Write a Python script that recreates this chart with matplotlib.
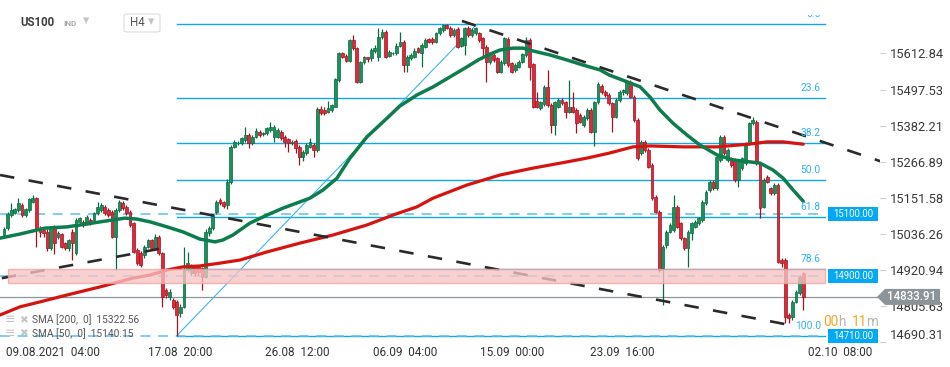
import numpy as np
import matplotlib
matplotlib.use("Agg")
import matplotlib.pyplot as plt
from matplotlib.patches import Rectangle, Polygon, FancyBboxPatch

plt.rcParams["font.family"] = ["Roboto", "DejaVu Sans"]

# ===== H4 candles (US100) =====
open_prices = [
    15032, 15053, 15096, 15103, 15112, 15128, 15096, 15112, 15139, 15149,
    15053, 15048, 15043, 14989, 15059, 15027, 15035, 15005, 14989, 15043,
    14973, 15075, 15075, 15069, 15080, 15080, 15101, 15112, 15123, 15112,
    15107, 15027, 15112, 15133, 15123, 15107, 15069, 14984, 14973, 14968,
    14995, 15016, 14989, 15027, 14973, 14856, 14835, 14824, 14819, 14781,
    14803, 14920, 14909, 14931, 14931, 14925, 14899, 15037,
    15053, 15107, 15144, 15139, 15128, 15203, 15315, 15325, 15325, 15336,
    15352, 15325, 15347, 15363, 15354, 15357, 15368, 15347, 15347, 15363,
    15347, 15339, 15325, 15333, 15315, 15283, 15293, 15315, 15320, 15304,
    15434, 15432, 15427, 15432, 15443, 15528, 15613, 15606, 15590, 15656,
    15629, 15523, 15585, 15600, 15597, 15622, 15603, 15667, 15683, 15606,
    15613, 15613, 15638, 15651,
    15576, 15597, 15603, 15629, 15613, 15635, 15659, 15659, 15651, 15677,
    15688, 15704, 15695, 15672, 15691, 15638, 15640, 15693, 15672, 15677,
    15677, 15661, 15635, 15587, 15608, 15597, 15555, 15581, 15659, 15581,
    15560, 15571, 15587, 15608, 15656, 15578, 15461, 15439, 15450, 15507,
    15448, 15384, 15443, 15464, 15456, 15427, 15443, 15432, 15416, 15384,
    15405, 15432, 15363, 15456, 15510, 15491, 15480,
    15453, 15411, 15464, 15488, 15485, 15523, 15475, 15400, 15293, 15331,
    15304, 15256, 15155, 15107, 14925, 14999, 15043, 15048, 15123, 15069,
    15021, 14989, 15037, 15059, 15069, 15080, 15133, 15176, 15203, 15181,
    15272, 15347, 15272, 15277, 15272, 15208, 15245, 15261, 15325, 15389,
    15395, 15261, 15123, 15219, 15181, 15165, 15192, 14952, 14952, 14776,
    14770, 14818, 14845, 14909,
]
high_prices = [
    15058, 15105, 15135, 15120, 15150, 15133, 15118, 15150, 15160, 15155,
    15060, 15050, 15050, 15060, 15065, 15045, 15040, 15010, 15020, 15050,
    15085, 15090, 15080, 15095, 15085, 15105, 15139, 15133, 15128, 15117,
    15112, 15117, 15145, 15140, 15128, 15112, 15075, 14990, 14980, 15000,
    15020, 15020, 15035, 15032, 14978, 14862, 14858, 14830, 14825, 14810,
    14995, 14979, 14940, 14936, 14936, 14930, 15050, 15060,
    15100, 15145, 15150, 15142, 15210, 15320, 15336, 15333, 15347, 15379,
    15357, 15352, 15373, 15368, 15363, 15379, 15395, 15385, 15373, 15368,
    15352, 15341, 15336, 15339, 15320, 15304, 15325, 15341, 15325, 15440,
    15445, 15440, 15460, 15452, 15535, 15618, 15618, 15610, 15660, 15672,
    15635, 15590, 15606, 15603, 15629, 15640, 15693, 15690, 15688, 15624,
    15618, 15645, 15680, 15655,
    15608, 15613, 15629, 15635, 15646, 15661, 15663, 15665, 15682, 15698,
    15708, 15707, 15700, 15693, 15698, 15665, 15698, 15700, 15693, 15698,
    15682, 15665, 15640, 15618, 15613, 15603, 15592, 15667, 15665, 15587,
    15581, 15592, 15615, 15665, 15661, 15581, 15491, 15461, 15512, 15560,
    15453, 15461, 15469, 15469, 15461, 15528, 15491, 15437, 15421, 15416,
    15437, 15437, 15461, 15520, 15514, 15496, 15485,
    15458, 15469, 15496, 15500, 15528, 15528, 15480, 15405, 15336, 15336,
    15309, 15261, 15160, 15112, 15000, 15048, 15069, 15160, 15128, 15075,
    15027, 15048, 15075, 15080, 15091, 15144, 15176, 15208, 15208, 15288,
    15352, 15352, 15309, 15282, 15277, 15272, 15282, 15331, 15395, 15411,
    15400, 15266, 15213, 15224, 15187, 15197, 15197, 14957, 14957, 14781,
    14823, 14855, 14904, 14915,
]
low_prices = [
    15025, 15048, 15090, 15098, 15105, 15090, 15090, 15105, 15135, 14995,
    15027, 15025, 14980, 14985, 14971, 15020, 14990, 14985, 14982, 14952,
    14968, 15070, 15058, 15064, 15065, 15075, 15096, 15107, 15096, 15090,
    15021, 14920, 15107, 15112, 15096, 15059, 14973, 14936, 14930, 14960,
    14990, 14984, 14984, 14968, 14803, 14830, 14825, 14795, 14710, 14770,
    14798, 14915, 14900, 14900, 14905, 14856, 14893, 15030,
    15048, 15100, 15128, 15120, 15115, 15195, 15309, 15320, 15320, 15330,
    15309, 15320, 15341, 15347, 15350, 15352, 15360, 15331, 15341, 15336,
    15315, 15299, 15320, 15293, 15256, 15270, 15288, 15309, 15283, 15299,
    15415, 15415, 15421, 15427, 15440, 15520, 15598, 15585, 15585, 15624,
    15518, 15518, 15580, 15585, 15590, 15615, 15590, 15660, 15597, 15600,
    15608, 15608, 15635, 15555,
    15555, 15592, 15597, 15613, 15570, 15630, 15645, 15643, 15646, 15672,
    15683, 15690, 15667, 15667, 15630, 15632, 15608, 15667, 15667, 15672,
    15651, 15603, 15523, 15580, 15585, 15550, 15550, 15576, 15571, 15550,
    15555, 15565, 15581, 15603, 15528, 15437, 15437, 15432, 15445, 15443,
    15357, 15352, 15439, 15448, 15405, 15421, 15421, 15357, 15389, 15379,
    15400, 15357, 15317, 15450, 15482, 15475, 15448,
    15363, 15405, 15459, 15480, 15480, 15470, 15395, 15273, 15288, 15299,
    15245, 15144, 15101, 14915, 14808, 14990, 15037, 15043, 15053, 15016,
    14984, 14931, 15016, 15053, 15064, 15075, 15128, 15171, 15176, 15176,
    15267, 15288, 15267, 15251, 15203, 15187, 15240, 15256, 15320, 15384,
    15256, 15085, 15117, 15197, 15160, 15160, 14941, 14930, 14749, 14749,
    14760, 14813, 14840, 14792,
]
close_prices = [
    15051, 15099, 15112, 15114, 15135, 15096, 15114, 15146, 15149, 15048,
    15043, 15037, 14989, 15053, 15005, 15039, 14995, 14992, 15016, 15005,
    15080, 15085, 15064, 15091, 15069, 15101, 15123, 15128, 15101, 15096,
    15027, 15112, 15139, 15117, 15101, 15064, 14979, 14941, 14936, 14995,
    15016, 14989, 15027, 14973, 14835, 14840, 14851, 14803, 14776, 14803,
    14920, 14941, 14931, 14909, 14915, 14899, 15043, 15053,
    15096, 15139, 15133, 15126, 15203, 15315, 15331, 15328, 15341, 15352,
    15325, 15347, 15365, 15352, 15360, 15373, 15379, 15379, 15368, 15341,
    15331, 15325, 15331, 15309, 15283, 15299, 15320, 15331, 15304, 15434,
    15421, 15421, 15437, 15448, 15530, 15613, 15603, 15590, 15656, 15629,
    15523, 15585, 15600, 15594, 15624, 15629, 15667, 15683, 15603, 15617,
    15615, 15638, 15651, 15576,
    15603, 15608, 15621, 15619, 15640, 15656, 15651, 15651, 15677, 15693,
    15704, 15695, 15672, 15688, 15635, 15661, 15693, 15672, 15688, 15693,
    15656, 15629, 15587, 15613, 15592, 15555, 15587, 15661, 15576, 15555,
    15576, 15587, 15610, 15656, 15571, 15443, 15443, 15456, 15507, 15448,
    15384, 15456, 15464, 15453, 15427, 15443, 15427, 15389, 15395, 15411,
    15432, 15363, 15456, 15514, 15488, 15480, 15453,
    15411, 15464, 15491, 15496, 15523, 15475, 15400, 15279, 15331, 15304,
    15251, 15149, 15107, 14920, 14995, 15043, 15064, 15123, 15059, 15021,
    14989, 15043, 15069, 15075, 15085, 15139, 15171, 15203, 15181, 15283,
    15347, 15293, 15304, 15256, 15208, 15267, 15277, 15325, 15389, 15400,
    15261, 15117, 15208, 15203, 15165, 15192, 14947, 14941, 14770, 14765,
    14818, 14850, 14899, 14833.91,
]

# ===== moving averages (bar index / value) =====
sma50_idx = [-1.1, 4.4, 11.4, 17.5, 21.1, 26.7, 33.6, 36.9, 40.6, 45.3, 49.7, 54.4,
             58.6, 60.8, 63.6, 68.3, 73.1, 77.5, 82.2, 85.0, 88.6, 92.5, 96.1, 100.8,
             105.3, 110.0, 114.7, 119.2, 123.9, 128.6, 131.7, 135.0, 137.8, 141.4,
             144.2, 146.9, 151.7, 156.4, 160.8, 165.6, 168.1, 173.1, 176.7, 179.4,
             182.2, 185.8, 189.7, 193.3, 198.1, 202.5, 207.2, 210.0, 213.6, 216.4,
             219.2, 222.0]
sma50_val = [15022, 15035, 15054, 15058, 15064, 15074, 15086, 15083, 15074, 15058, 15042,
             15019, 15010, 15016, 15032, 15070, 15096, 15118, 15138, 15150, 15176, 15214,
             15278, 15346, 15394, 15445, 15480, 15506, 15538, 15570, 15592, 15611, 15624,
             15630, 15630, 15621, 15608, 15592, 15576, 15560, 15544, 15522, 15506, 15474,
             15432, 15390, 15352, 15320, 15288, 15272, 15266, 15262, 15240, 15214, 15176,
             15140.15]
sma200_idx = [-1.1, 4.4, 10.0, 17.5, 26.7, 35.8, 40.6, 45.3, 49.7, 54.4, 60.0, 65.6,
              73.1, 82.2, 91.4, 100.8, 108.1, 114.7, 119.2, 128.6, 137.8, 146.9, 151.7,
              156.4, 161.9, 168.1, 174.7, 179.4, 188.6, 198.1, 207.2, 211.9, 216.4, 222.0]
sma200_val = [14776, 14802, 14818, 14840, 14866, 14894, 14904, 14920, 14930, 14933, 14942,
              14952, 14978, 15006, 15032, 15064, 15096, 15122, 15150, 15192, 15224, 15246,
              15256, 15266, 15278, 15294, 15314, 15317, 15314, 15314, 15323, 15330, 15330,
              15322.56]

# ===== drawings =====
trend_a_idx, trend_a_val = [-1.1, 216.9], [15224, 14747]
trend_b_idx, trend_b_val = [-0.6, 44.2], [14894, 14990]
trend_c_idx, trend_c_val = [127.2, 248.9], [15717, 15247]

fib_low, fib_high = 14710, 15707
fib_start, fib_top_idx, fib_end = 48, 131.4, 228
fib_levels = [0.0, 23.6, 38.2, 50.0, 61.8, 78.6, 100.0]

level_lines = [15100.00, 14900.00, 14710.00]
zone_low, zone_high = 14877, 14923
last_price = 14833.91

ytick_vals = [15612.84, 15497.53, 15382.21, 15266.89, 15151.58, 15036.26,
              14920.94, 14805.63, 14690.31]
xtick_pos = [13.6, 48.9, 81.4, 111.4, 141.1, 171.7, 232.2]
xtick_labels = ["09.08.2021  04:00", "17.08  20:00", "26.08  12:00", "06.09  04:00",
                "15.09  00:00", "23.09  16:00", "02.10  08:00"]

# ===== figure =====
W, H = 950, 367
fig = plt.figure(figsize=(W / 100, H / 100), dpi=100)
ax = fig.add_axes([0, 23 / H, 880 / W, 328 / H])
ax.set_xlim(-1.11, 243.33)
ax.set_ylim(14683.2, 15732.8)
for s in ax.spines.values():
    s.set_visible(False)

o = np.array(open_prices, dtype=float)
hi = np.array(high_prices, dtype=float)
lo = np.array(low_prices, dtype=float)
c = np.array(close_prices, dtype=float)
idx = np.arange(len(c))
up = c >= o
body_col = np.where(up, "#17925a", "#dd2a3b")
edge_col = np.where(up, "#0c6a40", "#a3121f")
body = c - o
body = np.where(np.abs(body) < 2, np.where(up, 2, -2), body)

ax.vlines(idx, lo, hi, colors=edge_col, lw=0.9, zorder=3)
ax.bar(idx, body, bottom=o, width=0.8, color=body_col, edgecolor=edge_col,
       linewidth=0.5, zorder=4)

# moving averages
ax.plot(sma200_idx, sma200_val, color="#d6130f", lw=2.3, zorder=5, solid_capstyle="round")
ax.plot(sma50_idx, sma50_val, color="#0d7d4d", lw=2.5, zorder=5, solid_capstyle="round")

# trend lines
for xs, ys in [(trend_a_idx, trend_a_val), (trend_b_idx, trend_b_val), (trend_c_idx, trend_c_val)]:
    ax.plot(xs, ys, color="#2a2a2a", lw=1.9, dashes=(5.5, 5.5), zorder=5)

# fibonacci retracement
fib_col = "#12a6ea"
clip_rect = Rectangle((0, 0), 1, 1 + 1.0 / 328, transform=ax.transAxes)
for lvl in fib_levels:
    p = fib_high - lvl / 100 * (fib_high - fib_low)
    ax.plot([fib_start, fib_end], [p, p], color=fib_col, lw=1.0, zorder=2)
    t = ax.text(226.9, p + 15, f"{lvl:.1f}", color="#2fb3f0", fontsize=7.4, ha="right",
                va="bottom", zorder=6)
    t.set_clip_on(True)
    t.set_clip_path(clip_rect)
ax.plot([fib_start, fib_top_idx], [fib_low, fib_high], color="#3cb4f0", lw=0.8, zorder=2)

# horizontal levels
for lv in level_lines:
    ax.plot([-1.11, fib_end], [lv, lv], color="#5bbff0", lw=1.1, dashes=(6.5, 5), zorder=2)
ax.axhline(last_price, color="#8e969b", lw=0.9, zorder=2)

# support zone
ax.add_patch(Rectangle((1.1, zone_low), fib_end - 1.1, zone_high - zone_low,
                       fc="#f8c3c3", ec="#eea3a3", lw=1, alpha=0.78, zorder=6))

# price tags
trans = ax.get_yaxis_transform()
for lv in level_lines:
    ax.add_patch(Rectangle((828 / 880, lv - 22.4), 50 / 880, 44.8, transform=trans,
                           fc="#03a9f4", ec="none", zorder=7, clip_on=False))
    ax.text(853 / 880, lv, f"{lv:.2f}", transform=trans, ha="center", va="center",
            color="white", fontsize=6.9, zorder=8, clip_on=False)
tag = Polygon([(877 / 880, last_price), (885 / 880, last_price + 25.6),
               (940 / 880, last_price + 25.6), (940 / 880, last_price - 25.6),
               (885 / 880, last_price - 25.6)], closed=True, transform=trans,
              fc="#8c9499", ec="none", zorder=7, clip_on=False)
ax.add_patch(tag)
ax.text(912 / 880, last_price, f"{last_price:.2f}", transform=trans, ha="center",
        va="center", color="white", fontsize=8.3, fontweight="medium", zorder=8,
        clip_on=False)

# axes ticks
ax.yaxis.tick_right()
ax.set_yticks(ytick_vals)
ax.set_yticklabels([f"{v:.2f}" for v in ytick_vals])
ax.tick_params(axis="y", direction="out", length=4, width=0.8, color="#d0d0d0",
               pad=3, labelsize=9.3, labelcolor="#3a3a3a")
ax.get_yticklabels()[-1].set_va("bottom")
ax.set_xticks(xtick_pos)
ax.set_xticklabels(xtick_labels)
ax.tick_params(axis="x", length=0, pad=1.5, labelsize=8.5, labelcolor="#333333")


def px(x, y):
    return x / W, 1 - y / H


# header
fig.text(*px(20, 23), "US100", fontsize=8.3, fontweight="bold", color="#3d3d3d", va="center")
fig.text(*px(63, 23.5), "IND", fontsize=5.8, fontweight="bold", color="#a8a8a8", va="center")
fig.text(*px(83, 21), "▾", fontsize=9, color="#c4c4c4", va="center")
fig.patches.append(FancyBboxPatch(px(124, 32), 36 / W, 18 / H, transform=fig.transFigure,
                                  boxstyle="round,pad=0,rounding_size=0.004",
                                  fc="white", ec="#dcdcdc", lw=0.8))
fig.text(*px(130, 23), "H4", fontsize=8.3, color="#555555", va="center")
fig.text(*px(148, 22), "▾", fontsize=9, color="#c4c4c4", va="center")

# countdown
for txt, x0, col in [("00", 823, "#f5a623"), ("h", 838, "#b5b5b5"),
                     ("11", 852, "#f5a623"), ("m", 866, "#b5b5b5")]:
    fig.text(*px(x0, 322), txt, fontsize=9.8, color=col, va="center")

# indicator legend
for y0, label in [(320, "SMA [200,  0]  15322.56"), (333.5, "SMA [50,  0]  15140.15")]:
    fig.text(*px(5, y0), "≡", fontsize=9, color="#c4c4c4", va="center")
    fig.text(*px(19, y0), "✖", fontsize=7.5, color="#c4c4c4", va="center")
    fig.text(*px(32, y0), label, fontsize=7.3, color="#555555", va="center")

fig.savefig("out.png", dpi=100)
